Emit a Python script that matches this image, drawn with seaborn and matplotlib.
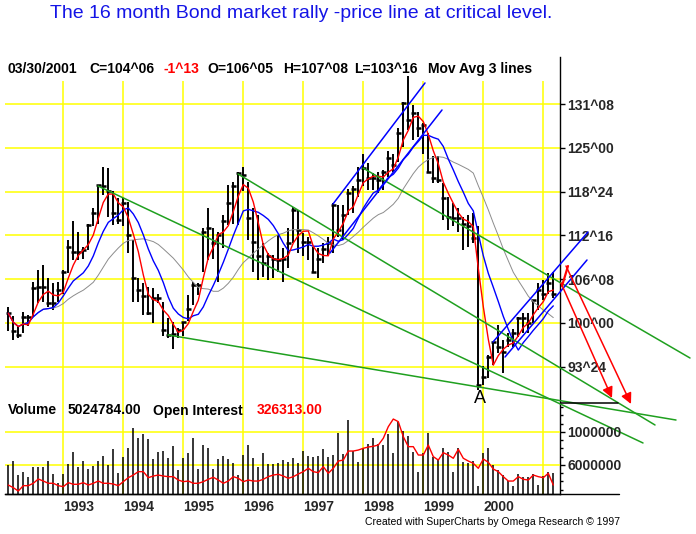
import numpy as np
import pandas as pd
import matplotlib
matplotlib.use("Agg")
import matplotlib.pyplot as plt
import seaborn as sns
from matplotlib.patches import Rectangle
from matplotlib.ticker import FixedLocator, NullFormatter

# ---------------- data (monthly, Feb 1992 .. Mar 2001) ----------------
months = pd.date_range("1992-02-01", periods=110, freq="MS")

high = [102.3, 101.0, 99.5, 101.6, 101.1, 105.9, 107.6, 108.3, 106.4, 105.7,
        105.9, 107.6, 111.9, 114.5, 113.0, 110.9, 114.2, 116.4, 119.7, 122.3,
        122.1, 118.8, 117.8, 117.8, 117.3, 111.9, 106.4, 105.7, 105.2, 105.0,
        104.2, 103.0, 100.7, 100.2, 99.3, 100.2, 104.0, 105.9, 105.7, 113.5,
        116.4, 113.5, 113.0, 115.4, 119.7, 120.2, 121.6, 122.3, 120.2, 116.4,
        115.4, 111.4, 110.0, 109.7, 112.6, 110.7, 113.5, 116.6, 116.1, 112.8,
        112.3, 110.9, 110.7, 111.4, 112.3, 117.1, 116.9, 116.9, 119.2, 119.5,
        122.3, 124.2, 122.8, 121.4, 121.6, 121.9, 124.5, 124.2, 127.8, 131.6,
        135.3, 131.1, 130.2, 128.5, 127.1, 123.8, 123.8, 120.0, 118.0, 117.1,
        116.4, 115.2, 115.4, 115.7, 113.8, 93.8, 95.4, 97.3, 99.7, 97.6,
        98.5, 99.2, 100.9, 101.4, 101.4, 103.3, 105.7, 106.1, 107.1, 107.25]
low = [98.9, 97.6, 97.8, 98.5, 99.5, 100.9, 102.8, 103.0, 102.3, 101.9,
       103.0, 104.2, 107.1, 109.0, 109.0, 109.2, 110.4, 113.8, 114.2, 118.3,
       115.2, 114.0, 114.2, 113.8, 110.0, 103.0, 103.0, 101.1, 101.1, 100.0,
       102.8, 98.2, 97.9, 96.3, 97.9, 98.2, 100.3, 102.6, 104.0, 107.3,
       109.0, 109.2, 105.9, 110.7, 114.0, 114.2, 114.0, 118.8, 111.9, 107.3,
       106.1, 106.5, 106.1, 106.4, 107.3, 105.9, 107.8, 111.4, 110.0, 109.5,
       109.0, 107.3, 106.4, 108.5, 109.5, 110.0, 112.3, 111.9, 115.4, 115.7,
       118.0, 119.5, 119.0, 119.0, 118.5, 119.0, 120.9, 121.6, 123.0, 125.2,
       127.6, 126.1, 126.6, 124.2, 121.6, 120.0, 120.0, 114.7, 113.3, 113.8,
       113.0, 110.4, 110.9, 111.4, 90.4, 91.1, 92.1, 94.0, 95.7, 92.8,
       96.6, 96.6, 98.0, 98.5, 98.5, 100.0, 101.9, 103.3, 104.2, 103.5]
close = [101.4, 98.8, 98.3, 100.9, 100.9, 105.0, 105.2, 105.2, 102.8, 102.8,
         104.7, 107.3, 110.9, 110.2, 110.2, 110.4, 114.0, 115.7, 119.7, 119.5,
         118.8, 115.7, 114.7, 117.1, 112.6, 106.4, 104.7, 103.8, 101.4, 103.5,
         103.5, 99.0, 98.3, 98.4, 99.0, 100.2, 102.0, 105.4, 105.4, 113.0,
         113.5, 111.4, 112.6, 114.5, 117.1, 119.5, 121.4, 121.1, 115.0, 111.6,
         109.5, 108.5, 109.5, 109.2, 109.0, 109.2, 111.4, 116.1, 113.3, 111.6,
         111.6, 107.3, 109.2, 110.5, 111.4, 116.9, 113.3, 115.4, 118.5, 119.2,
         120.4, 122.1, 120.7, 120.7, 120.4, 121.6, 123.5, 122.6, 127.1, 131.4,
         129.0, 130.0, 127.8, 128.3, 121.6, 120.7, 120.4, 117.8, 115.2, 115.0,
         115.0, 114.2, 113.8, 112.1, 91.1, 92.3, 95.2, 97.3, 96.6, 95.9,
         97.6, 98.5, 100.7, 100.7, 100.0, 103.3, 104.7, 104.2, 105.7, 104.19]
volume_m = [6.0, 6.5, 4.8, 5.2, 4.6, 5.8, 5.7, 5.7, 6.5, 4.9,
            3.8, 4.9, 6.1, 7.6, 5.8, 6.5, 5.5, 5.9, 6.5, 7.1,
            6.0, 7.9, 5.0, 7.0, 8.0, 10.5, 9.3, 9.7, 9.2, 6.7,
            7.6, 7.7, 6.8, 8.3, 5.4, 6.8, 7.4, 9.3, 5.5, 8.4,
            8.0, 5.5, 6.7, 7.1, 6.7, 6.3, 4.8, 7.2, 8.4, 6.9,
            5.8, 7.5, 6.1, 6.1, 6.2, 6.6, 6.4, 6.9, 6.3, 7.7,
            7.1, 7.0, 7.1, 7.9, 7.0, 7.2, 9.9, 7.3, 11.4, 7.7,
            6.4, 8.0, 8.5, 9.3, 8.5, 8.4, 9.7, 7.4, 11.2, 10.1,
            9.5, 7.6, 5.1, 7.4, 9.9, 7.0, 6.6, 8.0, 7.6, 5.1,
            8.0, 6.4, 6.2, 6.5, 3.4, 7.5, 8.0, 6.0, 5.4, 4.8,
            4.0, 3.4, 4.9, 4.5, 4.5, 4.9, 3.6, 4.7, 5.1, 5.02]
open_interest_k = [326, 305, 278, 321, 321, 340, 374, 358, 340, 340,
                   321, 313, 345, 332, 332, 345, 326, 340, 358, 340,
                   340, 334, 321, 353, 385, 406, 433, 433, 385, 398,
                   406, 398, 393, 393, 366, 353, 358, 340, 340, 353,
                   372, 388, 366, 340, 358, 393, 380, 353, 366, 358,
                   358, 372, 393, 406, 412, 398, 380, 393, 414, 433,
                   460, 433, 425, 473, 420, 460, 518, 526, 598, 598,
                   606, 620, 630, 636, 646, 700, 793, 854, 833, 713,
                   633, 633, 566, 566, 646, 553, 526, 585, 566, 540,
                   612, 540, 518, 500, 460, 534, 508, 454, 433, 393,
                   358, 358, 393, 372, 366, 406, 393, 385, 420, 326]

price_levels = [131.25, 125.0, 118.75, 112.5, 106.25, 100.0, 93.75]
price_labels = ["131^08", "125^00", "118^24", "112^16", "106^08", "100^00", "93^24"]
vol_levels_m = [6.0, 10.0]
vol_labels = ["6000000", "1000000"]
ma_lengths = [4, 9, 18]

# hand-drawn trend lines: (month index start, price start, month index end, price end)
green_lines = [(17.94, 119.57, 126.94, 82.86),
               (45.94, 121.29, 129.34, 85.43),
               (31.94, 98.29, 133.54, 86.14),
               (70.94, 122.14, 136.34, 95.00)]
blue_lines = [(64.94, 117.00, 83.34, 134.29),
              (64.34, 110.00, 86.74, 130.43),
              (96.94, 97.29, 115.94, 113.00),
              (99.34, 95.14, 115.74, 109.00)]
red_stroke = (110.74, 105.29, 111.94, 108.14)
red_arrows = [(110.54, 105.71, 120.74, 89.29),
              (111.54, 108.14, 124.54, 88.43)]
black_level = (110.54, 121.94, 88.57)
label_A = (94.3, 89.2)

# ---------------- figure ----------------
sns.set_theme(style="white")
plt.rcParams["font.family"] = ["Liberation Sans", "DejaVu Sans"]

W, H = 696, 534
fig = plt.figure(figsize=(W / 100, H / 100), dpi=100)
fig.patch.set_facecolor("white")

def fx(x):
    return x / W

def fy(y):
    return 1 - y / H

ax = fig.add_axes([fx(5), fy(494), 555 / W, 437 / H])
axv = ax.twinx()
axo = ax.twinx()

idx = np.arange(len(close))
df = pd.DataFrame({"m": idx, "high": high, "low": low, "close": close,
                   "vol": volume_m, "oi": open_interest_k}, index=months)

ax.set_xlim(-0.66, 110.34)
ax.set_ylim(75.571, 138.0)
ax.set_facecolor("white")
ax.set_axisbelow(True)

# year ticks
year_pos = [i for i, d in enumerate(months) if d.month == 1]
year_lab = [str(months[i].year) if months[i].year < 2001 else "" for i in year_pos]
ax.set_xticks(year_pos)
ax.set_xticklabels(year_lab, fontsize=10, fontweight="bold", ha="left")
ax.tick_params(axis="x", direction="out", length=5, width=1, color="black", pad=-1)

ax.yaxis.tick_right()
ax.set_yticks(price_levels)
ax.set_yticklabels(price_labels, fontsize=10, fontweight="bold")
ax.tick_params(axis="y", direction="out", length=3.6, width=1, color="black", pad=1.5,
               right=True, left=False, labelright=True, labelleft=False)
ax.grid(True, color="#FFFF00", lw=1.1)

for s in ["left", "top"]:
    ax.spines[s].set_visible(False)
ax.spines["right"].set_color("black")
ax.spines["right"].set_linewidth(1)
ax.spines["bottom"].set_color("black")
ax.spines["bottom"].set_linewidth(1)
ax.axhline(75.571, xmin=0, xmax=(619 - 5) / 555, color="black", lw=1, clip_on=False)

# white header band hiding gridlines
ax.add_patch(Rectangle((0, (494 - 81) / 437), 1, 1 - (494 - 81) / 437,
                       transform=ax.transAxes, facecolor="white", edgecolor="none", zorder=1))

# price bars
ax.vlines(df["m"], df["low"], df["high"], color="black", lw=1.4, zorder=3)
ax.hlines(df["close"], df["m"] - 0.45, df["m"] + 0.45, color="black", lw=1.8, zorder=3)

# moving averages
ma_colors = ["#FF0000", "#0000FF", "#8C8C8C"]
ma_widths = [1.0, 1.0, 0.7]
for n, c, w in zip(ma_lengths, ma_colors, ma_widths):
    ma = df["close"].rolling(n, min_periods=1).mean()
    sns.lineplot(x=df["m"].values, y=ma.values, ax=ax, color=c, lw=w, zorder=4 - ma_lengths.index(n) * 0.1)

# trend lines
for (m0, p0, m1, p1) in green_lines:
    ax.plot([m0, m1], [p0, p1], color="#1FA01F", lw=1.1, clip_on=False, zorder=5)
for (m0, p0, m1, p1) in blue_lines:
    ax.plot([m0, m1], [p0, p1], color="#0000FF", lw=1.1, clip_on=False, zorder=5)
ax.plot([red_stroke[0], red_stroke[2]], [red_stroke[1], red_stroke[3]], color="#FF0000",
        lw=1.6, clip_on=False, zorder=6)
for (m0, p0, m1, p1) in red_arrows:
    ax.annotate("", xy=(m1, p1), xytext=(m0, p0), annotation_clip=False, zorder=6,
                arrowprops=dict(arrowstyle="-|>", color="#FF0000", lw=1.1,
                                mutation_scale=16, shrinkA=0, shrinkB=0))
ax.plot([black_level[0], black_level[1]], [black_level[2], black_level[2]],
        color="black", lw=1.1, clip_on=False, zorder=6)
ax.text(label_A[0], label_A[1], "A", fontsize=13, ha="center", va="center", color="black")

# volume
vbase = 2.4848
axv.set_ylim(vbase, 55.45)
axv.vlines(df["m"], vbase, df["vol"], color="black", lw=1.1, zorder=3)
axv.set_yticks(vol_levels_m)
axv.set_yticklabels(vol_labels, fontsize=10, fontweight="bold")
axv.yaxis.set_minor_locator(FixedLocator([3, 4, 5, 7, 8, 9, 11, 12, 13]))
axv.yaxis.set_minor_formatter(NullFormatter())
axv.tick_params(axis="y", which="major", direction="out", length=3.6, width=1,
                color="black", pad=1.5)
axv.tick_params(axis="y", which="minor", direction="out", length=2.5, width=1, color="black")
axv.grid(True, axis="y", which="major", color="#FFFF00", lw=1.1)
for s in ["left", "top", "bottom", "right"]:
    axv.spines[s].set_visible(False)

# open interest
axo.set_ylim(254.3, 3750.3)
axo.plot(df["m"], df["oi"], color="#FF0000", lw=1.0, zorder=4)
axo.set_yticks([])
for s in ["left", "top", "bottom", "right"]:
    axo.spines[s].set_visible(False)
axo.grid(False)

ax.yaxis.tick_right()
ax.tick_params(axis="y", right=True, left=False, labelright=True, labelleft=False)

# ---------------- texts ----------------
fig.text(fx(301), fy(14), "The 16 month Bond market rally -price line at critical level.",
         color="#1414E6", fontsize=14, ha="center", va="center")

hdr = [(7, "03/30/2001", "black"), (89, "C=104^06", "black"), (163, "-1^13", "#FF0000"),
       (207, "O=106^05", "black"), (283, "H=107^08", "black"), (354, "L=103^16", "black"),
       (428, "Mov Avg 3 lines", "black")]
for x, t, c in hdr:
    fig.text(fx(x), fy(69), t, color=c, fontsize=10, fontweight="bold", ha="left", va="center")

vhdr = [(8, "Volume", "black"), (67.5, "5024784.00", "black"), (153, "Open Interest", "black"),
        (256.5, "326313.00", "#FF0000")]
for x, t, c in vhdr:
    fig.text(fx(x), fy(410.5), t, color=c, fontsize=10, fontweight="bold", ha="left", va="center")

fig.text(fx(620), fy(522), "Created with SuperCharts by Omega Research \u00a9 1997",
         fontsize=7.5, ha="right", va="center", color="black")

fig.savefig("out.png", dpi=100, facecolor="white")
